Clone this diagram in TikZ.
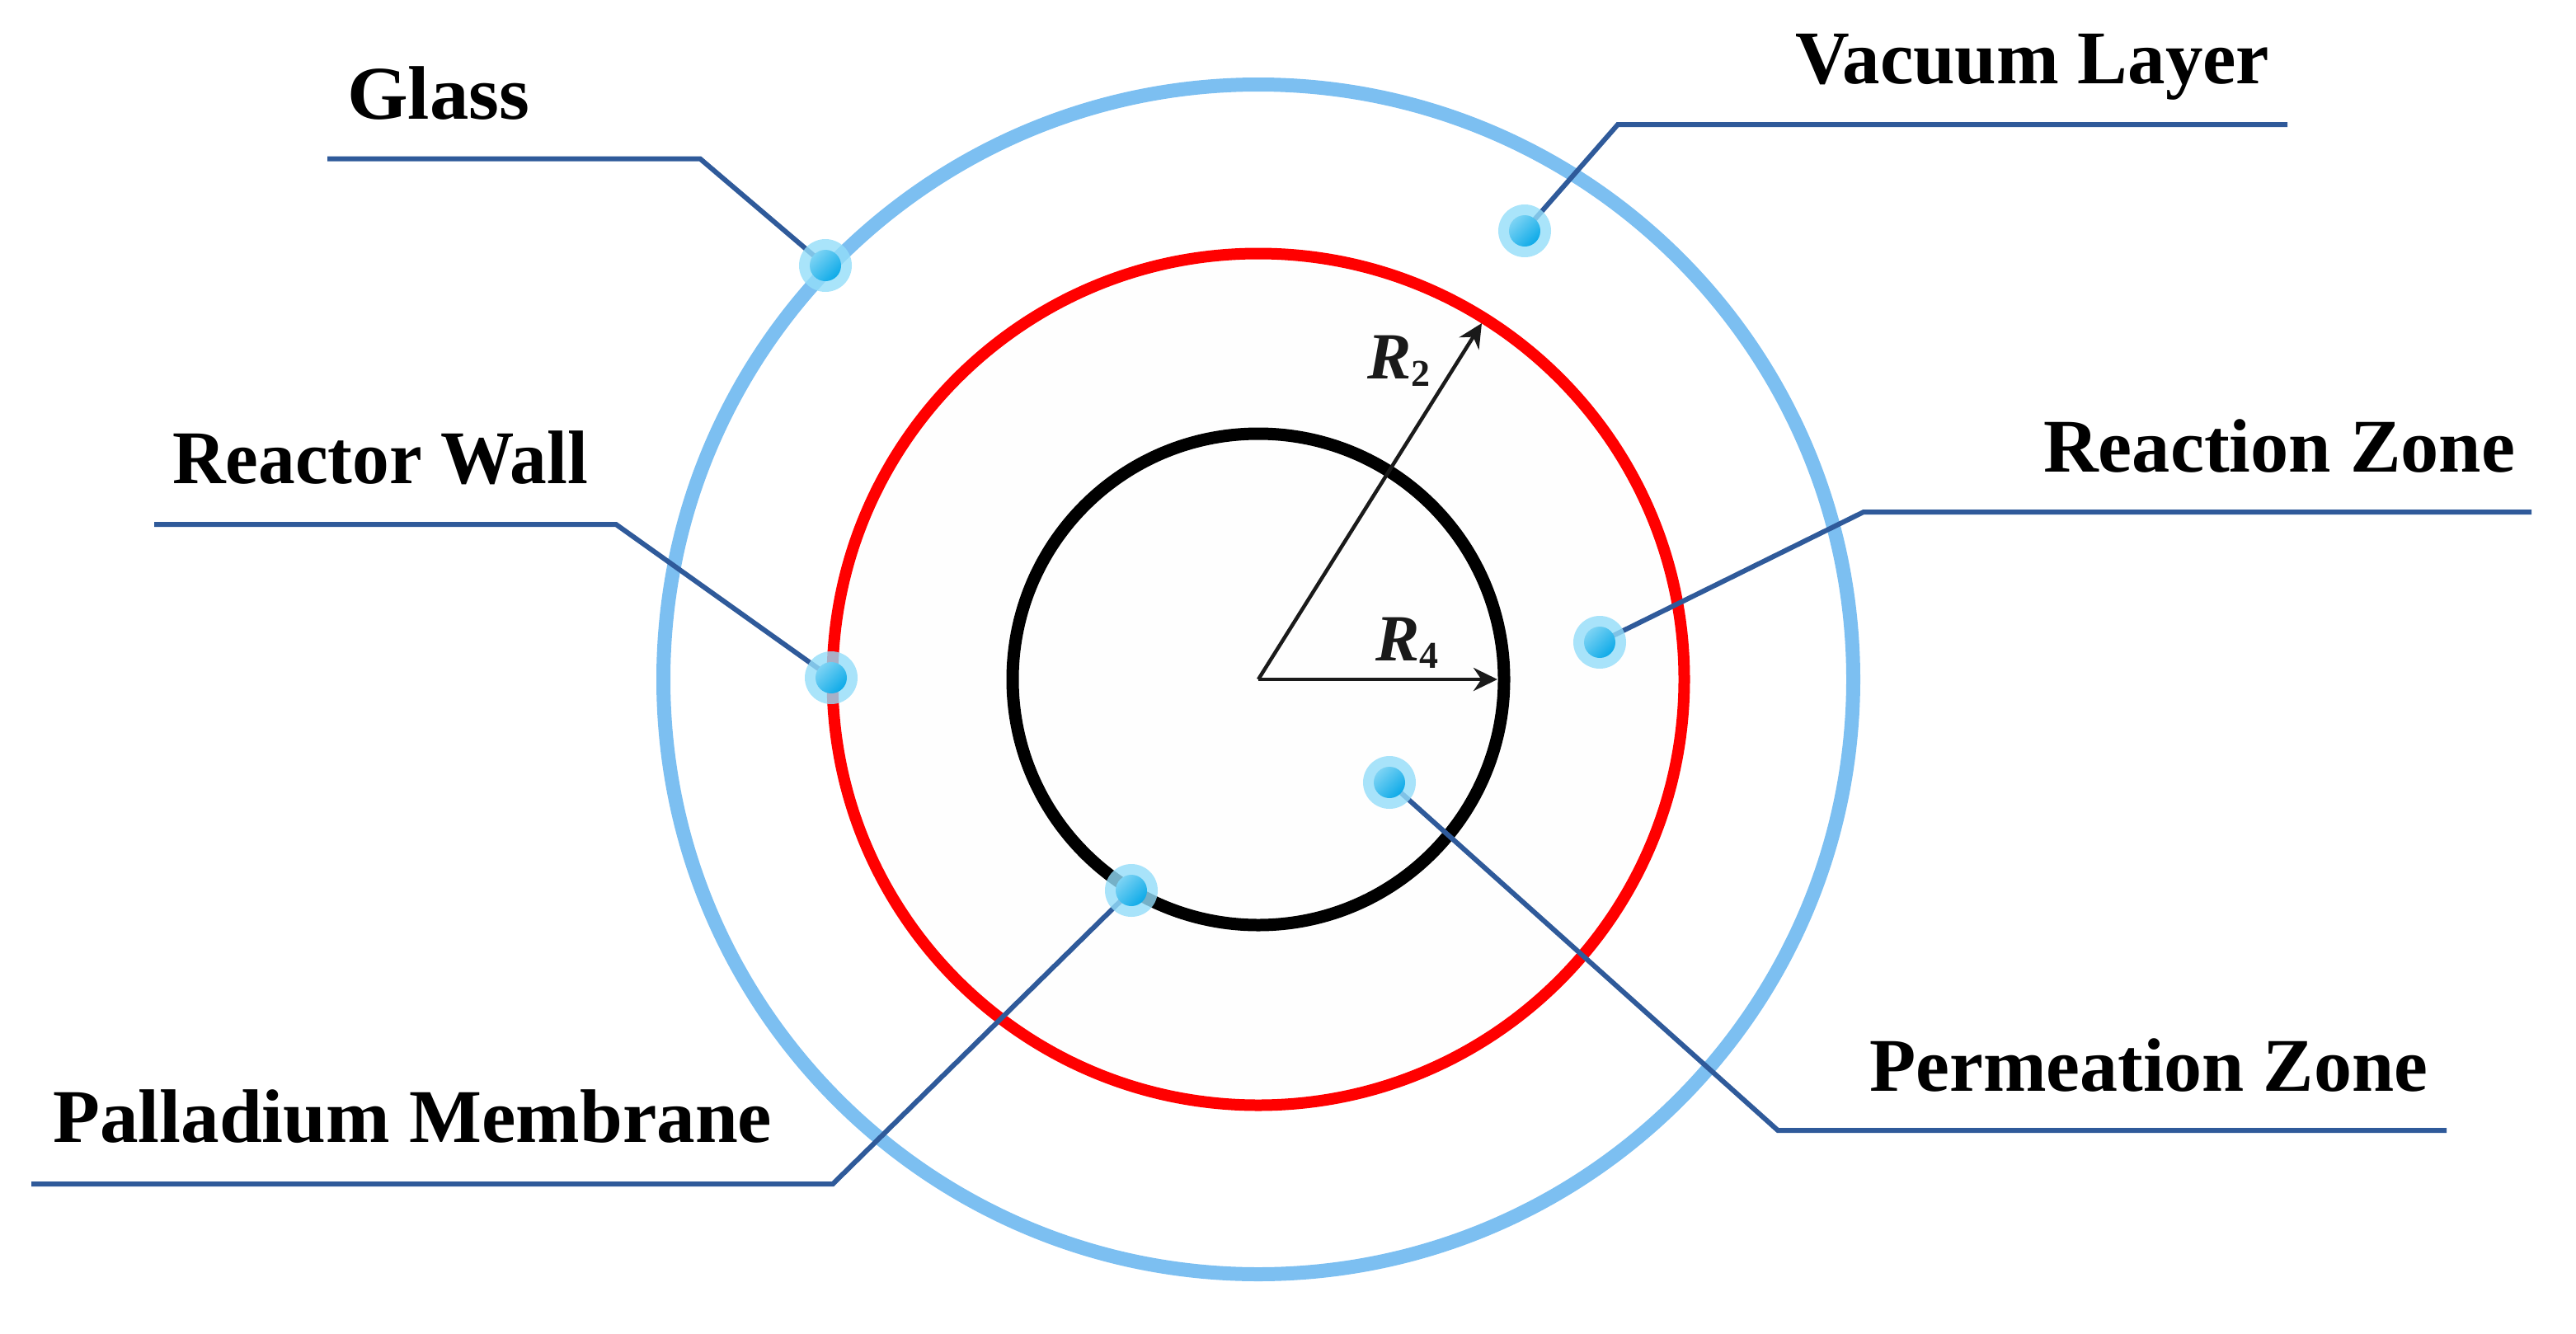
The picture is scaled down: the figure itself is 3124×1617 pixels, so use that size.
\documentclass[tikz,border=0pt]{standalone}
\usepackage{fontspec}
\usepackage{graphicx}
\setmainfont{Liberation Serif}
\usetikzlibrary{arrows.meta}
\definecolor{glassblue}{HTML}{7CBFF1}
\definecolor{wallred}{HTML}{FF0000}
\definecolor{leader}{HTML}{2F5A9A}
\definecolor{halo}{HTML}{93DDF9}
\definecolor{dotdark}{HTML}{0DAAE8}
\definecolor{dotlight}{HTML}{7CD3F4}
\definecolor{arrowink}{HTML}{1A1A1A}
\tikzset{
  x=1pt,y=-1pt,
  ringglass/.style={draw=glassblue,line width=17pt},
  ringwall/.style={draw=wallred,line width=14pt,fill=black!0.5},
  ringmem/.style={draw=black,line width=15pt},
  leaderline/.style={draw=leader,line width=6pt,line join=miter},
  radius arrow/.style={draw=arrowink,line width=4.5pt,-{Stealth[length=29pt,width=28pt]}},
  halodot/.style={circle,inner sep=0pt,minimum size=64pt,fill=halo,fill opacity=.8},
  coredot/.style={circle,inner sep=0pt,minimum size=38pt,shading=axis,top color=dotlight,bottom color=dotdark,shading angle=45},
  labeltext/.style={anchor=base west,inner sep=0pt,text=black},
  radlabel/.style={anchor=base west,inner sep=0pt,text=arrowink}
}
\newcommand{\lab}[2]{\resizebox{#1pt}{\height}{\fontsize{92}{100}\selectfont\bfseries #2}}
\newcommand{\radtext}[1]{\fontsize{80}{80}\selectfont\bfseries\itshape R\raisebox{-9pt}{\fontsize{46}{50}\selectfont\upshape #1}}
\begin{document}
\begin{tikzpicture}
\useasboundingbox (0,0) rectangle (3124,1617);
\coordinate (c) at (1526,824);
% rings
\node[circle,inner sep=0pt,minimum size=1443pt,ringglass] (glass) at (c) {};
\node[circle,inner sep=0pt,minimum size=1033pt,ringwall] (wall) at (c) {};
\node[circle,inner sep=0pt,minimum size=596pt,ringmem] (mem) at (c) {};
% radius arrows
\coordinate (r2tip) at (1797,392);
\coordinate (r4tip) at (1816,824);
\draw[radius arrow] (c) -- (r2tip);
\draw[radius arrow] (c) -- (r4tip);
\node[radlabel] (r2) at (1658,459) {\radtext{2}};
\node[radlabel] (r4) at (1668,801) {\radtext{4}};
% leader anchors
\coordinate (ga) at (397,192.5); \coordinate (gb) at (849,192.5);
\coordinate (va) at (2774,151); \coordinate (vb) at (1962,151);
\coordinate (wa) at (187,636); \coordinate (wb) at (747,636);
\coordinate (za) at (3070,621); \coordinate (zb) at (2260,621);
\coordinate (pa) at (2967,1371); \coordinate (pb) at (2156,1371);
\coordinate (ma) at (38,1436); \coordinate (mb) at (1010,1436);
% dot positions
\coordinate (gd) at (1001,322);
\coordinate (vd) at (1849,280);
\coordinate (wd) at (1008,822);
\coordinate (zd) at (1940,779);
\coordinate (pd) at (1685,949);
\coordinate (md) at (1372,1080);
% leaders
\draw[leaderline] (ga) -- (gb) -- (gd);
\draw[leaderline] (va) -- (vb) -- (vd);
\draw[leaderline] (wa) -- (wb) -- (wd);
\draw[leaderline] (za) -- (zb) -- (zd);
\draw[leaderline] (pa) -- (pb) -- (pd);
\draw[leaderline] (ma) -- (mb) -- (md);
% dots
\foreach \d in {gd,vd,wd,zd,pd,md}{
  \node[halodot] (halo\d) at (\d) {};
  \node[coredot] (core\d) at (\d) {};
}
% labels
\node[labeltext] (lglass) at (421,144) {\lab{221}{Glass}};
\node[labeltext] (lvac) at (2177,101) {\lab{575}{Vacuum Layer}};
\node[labeltext] (lwall) at (209,586) {\lab{504}{Reactor Wall}};
\node[labeltext] (lzone) at (2478,572) {\lab{572}{Reaction Zone}};
\node[labeltext] (lperm) at (2267,1323) {\lab{677}{Permeation Zone}};
\node[labeltext] (lpall) at (64,1385) {\lab{872}{Palladium Membrane}};
\end{tikzpicture}
\end{document}
